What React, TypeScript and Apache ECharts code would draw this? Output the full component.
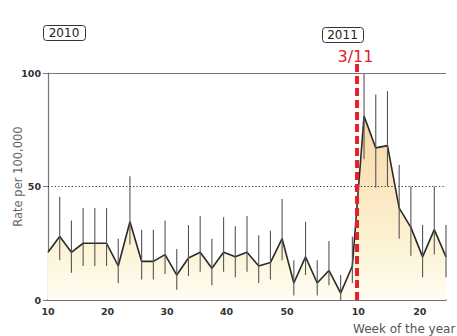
import React, { useEffect, useRef } from "react";
import * as echarts from "echarts";

// x position in weeks counted from 2010 week 10 (2010 has 52 weeks)
const weekIndex = [0, 2, 4, 6, 8, 10, 12, 14, 16, 18, 20, 22, 24, 26, 28, 30, 32, 34, 36, 38, 40, 42, 44, 46, 48, 50, 52, 54, 56, 58, 60, 62, 64, 66, 68];
const rates = [21, 28, 21, 25, 25, 25, 15, 34.5, 17, 17, 20, 11, 18.5, 21, 14, 21, 19, 21, 15, 16.5, 27, 7.5, 19, 7.5, 13, 3, 15, 81, 67, 68, 40.5, 32, 19, 31, 19];
const upper = [null, 45.5, 35, 40.5, 40.5, 40.5, 27, 54.5, 31, 31, 35, 22.5, 33, 37, 27, 36.5, 32.5, 37, 28.5, 30.5, 44.5, 17.5, 34.5, 17.5, 26, 11, 28, 100, 90.5, 92, 59.5, 50, 33, 50, 33];
const lower = [null, 17.5, 12, 15, 15, 15, 7.5, 24.5, 9, 9, 11.5, 4.5, 10.5, 12.5, 6.5, 12.5, 10, 12.5, 7.5, 9, 17.5, 2, 11, 2, 6.5, 0, 7.5, 62, 49.5, 50, 27, 19.5, 10, 20, 10];

const tickPositions = [0, 10, 20, 30, 40, 52, 62];
const tickLabels = ["10", "20", "30", "40", "50", "10", "20"];
const tickStyles = ["s0", "s1", "s2", "s3", "s5", "s6", "s9"];

const quakeWeek = 52.8; // 3/11 (2011 week 10)
const quakeLineTop = 104.5;

const FONT = "DejaVu Sans";

export default function App() {
  const ref = useRef<HTMLDivElement>(null);
  useEffect(() => {
    document.body.style.margin = "0";
    const chart = echarts.init(ref.current!, null, { renderer: "svg" });
    const lineData = weekIndex.map((w, i) => [w, rates[i]]);
    const barData: number[][] = [];
    weekIndex.forEach((w, i) => {
      if (upper[i] != null && lower[i] != null) barData.push([w, lower[i] as number, upper[i] as number]);
    });
    const labelLabel = (v: number) => {
      const k = tickPositions.indexOf(v);
      if (k < 0) return "";
      return "{" + tickStyles[k] + "|" + tickLabels[k] + "}";
    };
    const richBase = { fontFamily: FONT, fontWeight: "bold", fontSize: 9.5, color: "#333" };
    const rich: any = {};
    [["s0", 0], ["s1", 1], ["s2", 2], ["s3", 3], ["s5", 5], ["s6", 6], ["s9", 9]].forEach(([k, s]) => {
      rich[k as string] = { ...richBase, padding: [0, 0, 0, (s as number) * 2] };
    });

    chart.setOption({
      animation: false,
      grid: { left: 48, right: 11, top: 73, bottom: 36, containLabel: false, outerBoundsMode: "none" },
      xAxis: {
        type: "value",
        min: 0,
        max: 68,
        interval: 2,
        axisLine: { show: true, lineStyle: { color: "#444", width: 1.5 } },
        axisTick: { show: false },
        splitLine: { show: false },
        axisLabel: {
          margin: 6,
          formatter: labelLabel,
          rich,
          fontFamily: FONT,
          fontWeight: "bold",
          fontSize: 9.5,
          color: "#333",
        },
      },
      yAxis: {
        type: "value",
        min: 0,
        max: 100,
        interval: 50,
        name: "Rate per 100,000",
        nameLocation: "middle",
        nameGap: 24,
        nameMoveOverlap: false,
        nameTextStyle: { fontFamily: FONT, fontSize: 11.5, color: "#666", padding: [0, 0, 0, 20] },
        axisLine: { show: true, lineStyle: { color: "#777", width: 1.2 } },
        axisTick: { show: true, length: 5, lineStyle: { color: "#777", width: 1 } },
        splitLine: { show: false },
        axisLabel: { margin: 7, fontFamily: FONT, fontWeight: "bold", fontSize: 9.5, color: "#333" },
      },
      series: [
        {
          type: "line",
          z: 2,
          data: lineData,
          symbol: "none",
          lineStyle: { color: "#2a2a2a", width: 1.6 },
          areaStyle: {
            color: {
              type: "linear",
              x: 0,
              y: 73,
              x2: 0,
              y2: 300,
              global: true,
              colorStops: [
                { offset: 0, color: "#f7cf92" },
                { offset: 0.5, color: "#fbe6bf" },
                { offset: 0.75, color: "#fcf3d4" },
                { offset: 1, color: "#fffcf2" },
              ],
            },
            opacity: 1,
          },
          markLine: {
            silent: true,
            symbol: ["none", "none"],
            label: { show: false },
            data: [
              { yAxis: 50, lineStyle: { type: [1.2, 2.2], color: "#333", width: 1.1 } },
              { yAxis: 100, lineStyle: { type: "solid", color: "#777", width: 1.2 } },
            ],
          },
        },
        {
          type: "custom",
          z: 4,
          encode: { x: 0, y: [1, 2] },
          data: barData,
          renderItem: (params: any, api: any) => {
            const x = api.value(0);
            const p1 = api.coord([x, api.value(1)]);
            const p2 = api.coord([x, api.value(2)]);
            return {
              type: "line",
              shape: { x1: p1[0], y1: p1[1], x2: p2[0], y2: p2[1] },
              style: { stroke: "#555", lineWidth: 1.1 },
            };
          },
        },
        {
          type: "custom",
          z: 5,
          clip: false,
          encode: { x: 0, y: [1, 2] },
          data: [[quakeWeek, 0, quakeLineTop]],
          renderItem: (params: any, api: any) => {
            const x = api.value(0);
            const p1 = api.coord([x, api.value(1)]);
            const p2 = api.coord([x, api.value(2)]);
            return {
              type: "line",
              shape: { x1: p1[0], y1: p1[1], x2: p2[0], y2: p2[1] },
              style: { stroke: "#e3202b", lineWidth: 4, lineDash: [8, 4] },
            };
          },
        },
      ],
      graphic: [
        { type: "rect", left: 43, top: 25, shape: { width: 42, height: 15, r: 3 }, style: { fill: "#fff", stroke: "#333", lineWidth: 1 } },
        { type: "text", x: 64, y: 33, style: { text: "2010", fontFamily: FONT, fontSize: 12, fill: "#222", align: "center", verticalAlign: "middle" } },
        { type: "rect", left: 322, top: 27, shape: { width: 41, height: 15, r: 3 }, style: { fill: "#fff", stroke: "#333", lineWidth: 1 } },
        { type: "text", x: 342.5, y: 35, style: { text: "2011", fontFamily: FONT, fontSize: 12, fill: "#222", align: "center", verticalAlign: "middle" } },
        { type: "text", x: 355.5, y: 56.5, style: { text: "3/11", fontFamily: FONT, fontSize: 16, fill: "#e3202b", align: "center", verticalAlign: "middle" } },
        { type: "text", x: 353, y: 329, style: { text: "Week of the year", fontFamily: FONT, fontSize: 12, fill: "#555", align: "left", verticalAlign: "middle" } },
      ],
    });
    return () => chart.dispose();
  }, []);
  return <div ref={ref} style={{ width: 457, height: 336 }} />;
}
